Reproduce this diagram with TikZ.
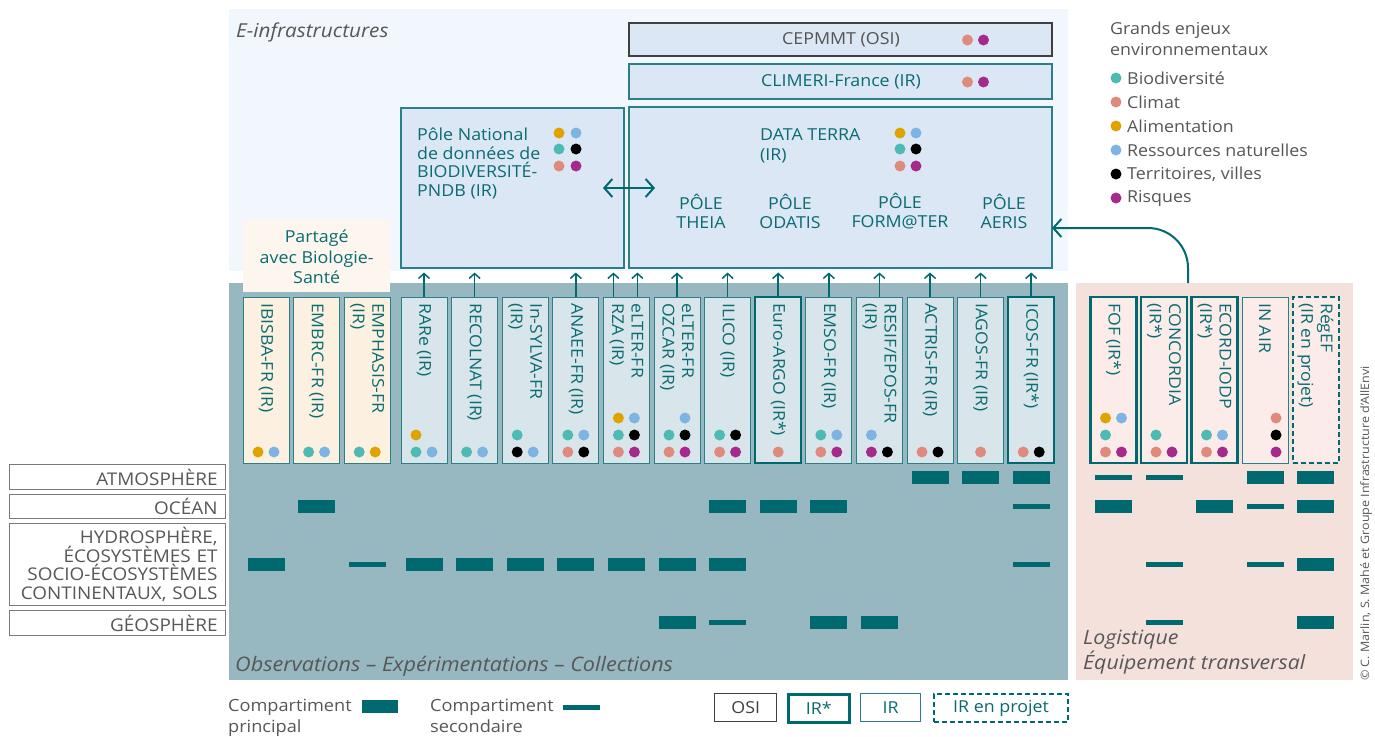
\documentclass[tikz,border=0pt]{standalone}
\usepackage{fontspec}
\setmainfont[FakeStretch=1.08]{Open Sans}
\usetikzlibrary{arrows.meta,calc}
\definecolor{tealc}{HTML}{0A6B71}
\definecolor{tealb}{HTML}{2B7F86}
\definecolor{barc}{HTML}{006970}
\definecolor{greyreg}{HTML}{97B8C1}
\definecolor{einfra}{HTML}{F2F6FD}
\definecolor{boxfill}{HTML}{DBE7F5}
\definecolor{colblue}{HTML}{D8E5EA}
\definecolor{colcream}{HTML}{FCF1E1}
\definecolor{creambox}{HTML}{FCF6EE}
\definecolor{pinkreg}{HTML}{F5E1DB}
\definecolor{colpink}{HTML}{FBECE9}
\definecolor{txtgrey}{HTML}{575757}
\definecolor{osic}{HTML}{404040}
\definecolor{rowgrey}{HTML}{7A7A7A}
\definecolor{bio}{HTML}{4DBBB3}
\definecolor{clim}{HTML}{E08A7E}
\definecolor{alim}{HTML}{DFA300}
\definecolor{ress}{HTML}{7EB4E4}
\definecolor{terr}{HTML}{000000}
\definecolor{risq}{HTML}{A52A8C}
\newcommand\pdot[4]{\fill[#1] ($(#2.south)+(#3,#4)$) circle (5.5pt);}
\newcommand\mbar[2]{\fill[barc] (#1.center |- #2) ++(-18.5,-6.5) rectangle ++(37,13);}
\newcommand\sbar[2]{\fill[barc] (#1.center |- #2) ++(-18.5,-2.5) rectangle ++(37,5);}
\begin{document}
\begin{tikzpicture}[x=1pt,y=-1pt,
  fs/.style={font=\fontsize{16.5}{18.5}\selectfont},
  tl/.style={fs, text=tealc, inner sep=0},
  gl/.style={fs, text=txtgrey, inner sep=0},
  colbox/.style={draw=tealb, line width=0.9pt, minimum width=46pt, minimum height=166pt, inner sep=0, outer sep=0, anchor=north west},
  irstar/.style={draw=barc, line width=2.4pt},
  projet/.style={draw=barc, line width=2pt, dash pattern=on 5pt off 3pt},
  collab/.style={rotate=-90, anchor=west, align=left, text=tealc, font=\fontsize{16.3}{19.5}\selectfont, inner sep=0},
  bigbox/.style={draw=tealb, line width=1.2pt, fill=boxfill, inner sep=0, outer sep=0, anchor=north west},
  rowbox/.style={draw=rowgrey, fill=white, line width=1.1pt, text width=200pt, align=right, inner xsep=8pt, inner ysep=0, anchor=north west, font=\fontsize{17.5}{18.7}\selectfont, text=txtgrey},
  smarr/.style={draw=barc, line width=1.5pt, -{Straight Barb[length=5pt,width=11pt]}, shorten >=4.5pt},
  bigarr/.style={draw=barc, line width=2pt, -{Straight Barb[length=8pt,width=18pt]}},
  legbox/.style={minimum height=28pt, inner sep=0, anchor=north west, font=\fontsize{16.5}{19}\selectfont},
]
\useasboundingbox (0,0) rectangle (1375,736);
\fill[white] (0,0) rectangle (1375,736);
% regions
\fill[einfra] (229,9) rectangle (1068,271);
\fill[greyreg] (229,283) rectangle (1068,680);
\fill[pinkreg] (1076,283) rectangle (1353,680);
\node[fill=creambox, minimum width=147pt, minimum height=72pt, inner sep=0, anchor=north west] (partage) at (243,220) {};
\node[tl, align=center, font=\fontsize{16.5}{20.5}\selectfont] (partagetxt) at ([yshift=-1pt]partage.center) {Partagé\\avec Biologie-\\Santé};

\node[gl, font=\itshape\fontsize{19.2}{20}\selectfont, anchor=west] (einfratxt) at (236,32) {E-infrastructures};
\node[gl, font=\itshape\fontsize{20}{22}\selectfont, anchor=west] (obstxt) at (235,666) {Observations – Expérimentations – Collections};
\node[gl, font=\itshape\fontsize{19.7}{23}\selectfont, anchor=north west, align=left] (logtxt) at (1083,630) {Logistique\\Équipement transversal};

% top boxes
\node[bigbox, draw=osic, line width=1.5pt, minimum width=423pt, minimum height=33pt] (cepmmt) at (629,23) {};
\node[gl, text=osic!90] at (841,40) {CEPMMT (OSI)};
\pdot{clim}{cepmmt}{127}{-16}\pdot{risq}{cepmmt}{143}{-16}
\node[bigbox, minimum width=423pt, minimum height=35pt] (climeri) at (629,64) {};
\node[tl] at (841,82) {CLIMERI-France (IR)};
\pdot{clim}{climeri}{127}{-17}\pdot{risq}{climeri}{143}{-17}
\node[bigbox, minimum width=423pt, minimum height=161pt] (dataterra) at (629,107) {};
\node[tl, anchor=north west, align=left, font=\fontsize{16.5}{20}\selectfont] (dttxt) at (760,128) {DATA TERRA\\(IR)};
\foreach \c/\x/\y in {alim/900/133, ress/916/133, bio/900/149, terr/916/149, clim/900/166, risq/916/166}{\fill[\c] (\x,\y) circle (5.5pt);}
\node[tl, align=center, font=\fontsize{16.5}{19}\selectfont] (theia) at (701,211) {PÔLE\\THEIA};
\node[tl, align=center, font=\fontsize{16.5}{19}\selectfont] (odatis) at (790,211) {PÔLE\\ODATIS};
\node[tl, align=center, font=\fontsize{16.5}{19}\selectfont] (formater) at (900,211) {PÔLE\\FORM@TER};
\node[tl, align=center, font=\fontsize{16.5}{19}\selectfont] (aeris) at (1004,211) {PÔLE\\AERIS};
\node[bigbox, minimum width=223pt, minimum height=160pt] (pndb) at (401,108) {};
\node[tl, anchor=north west, align=left] (pndbtxt) at (417,128) {Pôle National\\de données de\\BIODIVERSITÉ-\\PNDB (IR)};
\foreach \c/\x/\y in {alim/559/133, ress/576/133, bio/559/149, terr/576/149, clim/559/166, risq/576/166}{\fill[\c] (\x,\y) circle (5.5pt);}
\coordinate (dl) at (603,188);
\coordinate (dr) at (655,188);
\draw[bigarr, {Straight Barb[length=8pt,width=18pt]}-{Straight Barb[length=8pt,width=18pt]}] (dl) -- (dr);

% legend top right
\node[gl, anchor=north west, align=left, font=\fontsize{16.5}{20.5}\selectfont] (legtitle) at (1110,22) {Grands enjeux\\environnementaux};
\foreach \c/\t/\y in {bio/Biodiversité/78, clim/Climat/102, alim/Alimentation/126, ress/Ressources naturelles/150, terr/{Territoires, villes}/174, risq/Risques/198}{
  \fill[\c] (1116,\y) circle (5.5pt);
  \node[gl, anchor=west] at (1127,\y) {\t};
}

% columns
\node[colbox, fill=colcream] (ibisba) at (243,297) {};
\node[colbox, fill=colcream] (embrc) at (293.6,297) {};
\node[colbox, fill=colcream] (emphasis) at (344.2,297) {};
\node[colbox, fill=colblue] (rare) at (401,297) {};
\node[colbox, fill=colblue] (recolnat) at (451.6,297) {};
\node[colbox, fill=colblue] (insylva) at (502.2,297) {};
\node[colbox, fill=colblue] (anaee) at (552.8,297) {};
\node[colbox, fill=colblue] (rza) at (603.4,297) {};
\node[colbox, fill=colblue] (ozcar) at (654,297) {};
\node[colbox, fill=colblue] (ilico) at (704.6,297) {};
\node[colbox, fill=colblue, irstar] (argo) at (755.2,297) {};
\node[colbox, fill=colblue] (emso) at (805.8,297) {};
\node[colbox, fill=colblue] (resif) at (856.4,297) {};
\node[colbox, fill=colblue] (actris) at (907,297) {};
\node[colbox, fill=colblue] (iagos) at (957.6,297) {};
\node[colbox, fill=colblue, irstar] (icos) at (1008.2,297) {};
\node[colbox, fill=colpink, irstar] (fof) at (1090.5,297) {};
\node[colbox, fill=colpink, irstar] (concordia) at (1141,297) {};
\node[colbox, fill=colpink, irstar] (ecord) at (1191.5,297) {};
\node[colbox, fill=colpink] (inair) at (1242,297) {};
\node[colbox, fill=colpink, projet] (regef) at (1292.5,297) {};

\foreach \n/\t in {ibisba/IBISBA-FR (IR), embrc/EMBRC-FR (IR), emphasis/EMPHASIS-FR\\(IR), rare/RARe (IR), recolnat/RECOLNAT (IR), insylva/In-SYLVA-FR\\(IR), anaee/ANAEE-FR (IR), rza/eLTER-FR\\RZA (IR), ozcar/eLTER-FR\\OZCAR (IR), ilico/ILICO (IR), argo/Euro-ARGO (IR*), emso/EMSO-FR (IR), resif/{RESIF/EPOS-FR\\(IR)}, actris/ACTRIS-FR (IR), iagos/IAGOS-FR (IR), icos/ICOS-FR (IR*), fof/FOF (IR*), concordia/CONCORDIA\\(IR*), ecord/ECORD-IODP\\(IR*), inair/IN AIR, regef/RégEF\\(IR en projet)}{
  \node[collab] (\n-lab) at ([yshift=-6pt]\n.north) {\t};
}

% dots in columns (bottom -11, mid -28, top -45)
\pdot{alim}{ibisba}{-8}{-11}\pdot{ress}{ibisba}{8}{-11}
\pdot{bio}{embrc}{-8}{-11}\pdot{ress}{embrc}{8}{-11}
\pdot{bio}{emphasis}{-8}{-11}\pdot{alim}{emphasis}{8}{-11}
\pdot{alim}{rare}{-8}{-28}\pdot{bio}{rare}{-8}{-11}\pdot{ress}{rare}{8}{-11}
\pdot{bio}{recolnat}{-8}{-11}\pdot{ress}{recolnat}{8}{-11}
\pdot{bio}{insylva}{-8}{-28}\pdot{terr}{insylva}{-8}{-11}\pdot{ress}{insylva}{8}{-11}
\pdot{bio}{anaee}{-8}{-28}\pdot{ress}{anaee}{8}{-28}\pdot{clim}{anaee}{-8}{-11}\pdot{terr}{anaee}{8}{-11}
\pdot{alim}{rza}{-8}{-45}\pdot{ress}{rza}{8}{-45}\pdot{bio}{rza}{-8}{-28}\pdot{terr}{rza}{8}{-28}\pdot{clim}{rza}{-8}{-11}\pdot{risq}{rza}{8}{-11}
\pdot{ress}{ozcar}{8}{-45}\pdot{bio}{ozcar}{-8}{-28}\pdot{terr}{ozcar}{8}{-28}\pdot{clim}{ozcar}{-8}{-11}\pdot{risq}{ozcar}{8}{-11}
\pdot{bio}{ilico}{-8}{-28}\pdot{terr}{ilico}{8}{-28}\pdot{clim}{ilico}{-8}{-11}\pdot{risq}{ilico}{8}{-11}
\pdot{clim}{argo}{0}{-11}
\pdot{bio}{emso}{-8}{-28}\pdot{ress}{emso}{8}{-28}\pdot{clim}{emso}{-8}{-11}\pdot{risq}{emso}{8}{-11}
\pdot{ress}{resif}{-8}{-28}\pdot{risq}{resif}{-8}{-11}\pdot{terr}{resif}{8}{-11}
\pdot{clim}{actris}{-8}{-11}\pdot{terr}{actris}{8}{-11}
\pdot{clim}{iagos}{0}{-11}
\pdot{clim}{icos}{-8}{-11}\pdot{terr}{icos}{8}{-11}
\pdot{alim}{fof}{-8}{-45}\pdot{ress}{fof}{8}{-45}\pdot{bio}{fof}{-8}{-28}\pdot{clim}{fof}{-8}{-11}\pdot{risq}{fof}{8}{-11}
\pdot{bio}{concordia}{-8}{-28}\pdot{clim}{concordia}{-8}{-11}\pdot{risq}{concordia}{8}{-11}
\pdot{bio}{ecord}{-8}{-28}\pdot{ress}{ecord}{8}{-28}\pdot{clim}{ecord}{-8}{-11}\pdot{risq}{ecord}{8}{-11}
\pdot{clim}{inair}{11}{-45}\pdot{terr}{inair}{11}{-28}\pdot{risq}{inair}{11}{-11}

% small arrows
\foreach \n in {rare, recolnat, anaee}{\draw[smarr] (\n.north) -- (\n.north |- pndb.south);}
\draw[smarr] ([xshift=-13pt]rza.north) -- ([xshift=-13pt]rza.north |- pndb.south);
\draw[smarr] ([xshift=11pt]rza.north) -- ([xshift=11pt]rza.north |- dataterra.south);
\foreach \n in {ozcar, ilico, argo, emso, resif, actris, iagos, icos}{\draw[smarr] (\n.north) -- (\n.north |- dataterra.south);}

% big curved arrow
\coordinate (curvestart) at (1188,283);
\draw[bigarr, rounded corners=40pt] (curvestart) |- (dataterra.east |- 0,228);

% row labels
\node[rowbox, minimum height=25pt] (latm) at (9,464) {ATMOSPHÈRE};
\node[rowbox, minimum height=24pt] (loce) at (9,494) {OCÉAN};
\node[rowbox, minimum height=82pt] (lhyd) at (9,523) {HYDROSPHÈRE,\\ÉCOSYSTÈMES ET\\SOCIO-ÉCOSYSTÈMES\\CONTINENTAUX, SOLS};
\node[rowbox, minimum height=25pt] (lgeo) at (9,610) {GÉOSPHÈRE};
\coordinate (ratm) at (0,477);
\coordinate (roce) at (0,506);
\coordinate (rhyd) at (0,564);
\coordinate (rgeo) at (0,622);

% bars
\mbar{actris}{ratm}\mbar{iagos}{ratm}\mbar{icos}{ratm}\sbar{fof}{ratm}\sbar{concordia}{ratm}\mbar{inair}{ratm}\mbar{regef}{ratm}
\mbar{embrc}{roce}\mbar{ilico}{roce}\mbar{argo}{roce}\mbar{emso}{roce}\sbar{icos}{roce}\mbar{fof}{roce}\mbar{ecord}{roce}\sbar{inair}{roce}\mbar{regef}{roce}
\mbar{ibisba}{rhyd}\sbar{emphasis}{rhyd}\mbar{rare}{rhyd}\mbar{recolnat}{rhyd}\mbar{insylva}{rhyd}\mbar{anaee}{rhyd}\mbar{rza}{rhyd}\mbar{ozcar}{rhyd}\mbar{ilico}{rhyd}\sbar{icos}{rhyd}\sbar{concordia}{rhyd}\sbar{inair}{rhyd}\mbar{regef}{rhyd}
\mbar{ozcar}{rgeo}\sbar{ilico}{rgeo}\mbar{emso}{rgeo}\mbar{resif}{rgeo}\sbar{concordia}{rgeo}\mbar{regef}{rgeo}

% copyright
\node[gl, rotate=90, anchor=west, font=\fontsize{11.6}{13}\selectfont] (copy) at (1366,681) {© C. Marlin, S. Mahé et Groupe Infrastructure d'AllEnvi};

% bottom legend
\node[gl, anchor=north west, align=left, font=\fontsize{16.8}{21}\selectfont] (cp) at (228,699) {Compartiment\\principal};
\fill[barc] (362,700) rectangle (398,713);
\node[gl, anchor=north west, align=left, font=\fontsize{16.8}{21}\selectfont] (cs) at (430,699) {Compartiment\\secondaire};
\fill[barc] (563,704.5) rectangle (600,709.5);
\node[legbox, draw=osic, line width=1.4pt, minimum width=62pt, text=osic] (losi) at (714,693) {OSI};
\node[legbox, draw=barc, line width=2.5pt, minimum width=61pt, text=tealc] (lirs) at (787,693) {IR*};
\node[legbox, draw=tealb, line width=1.3pt, minimum width=60pt, text=tealc] (lir) at (860,693) {IR};
\node[legbox, projet, minimum width=134pt, text=tealc] (lproj) at (933,693) {IR en projet};
\end{tikzpicture}
\end{document}
